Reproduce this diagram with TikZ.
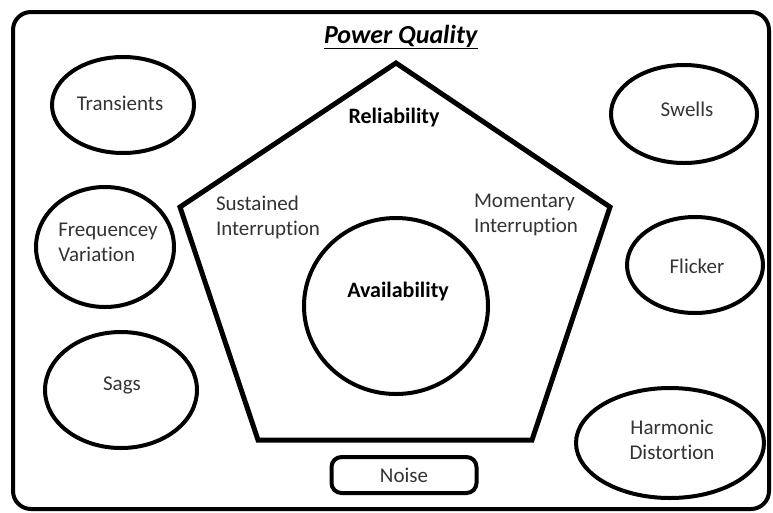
\documentclass[tikz,border=0pt]{standalone}
\usepackage{fontspec}
\setmainfont{Carlito}[Ligatures=NoCommon]
\begin{document}
\begin{tikzpicture}[x=1pt, y=-1pt, line width=4pt,
  txt/.style={text=black!80, font=\fontsize{21}{25}\selectfont, align=left, inner sep=0pt}]
  \useasboundingbox (0,0) rectangle (773,512);
  \draw[rounded corners=18pt] (13,12) rectangle (769,509);
  % \draw (396,250) circle [radius=120pt];
  \draw[line width=5pt, line join=miter] (396,63) -- (610,207) -- (532,440) -- (258,440) -- (180,207) -- cycle;
  \draw (396,306) circle [x radius=92pt, y radius=88pt];
  \draw (123,105) circle [x radius=71pt, y radius=48pt];
  \draw (105,247) circle [x radius=69pt, y radius=60pt];
  \draw (121,390) circle [x radius=76pt, y radius=58pt];
  \draw (684,114) circle [x radius=73pt, y radius=49pt];
  \draw (695,265) circle [x radius=68pt, y radius=48pt];
  \draw (670,443) circle [x radius=94pt, y radius=55pt];
  \path (401,37) node[txt, text=black, font=\fontsize{26}{30}\selectfont] (title) {\underline{\textbf{\textit{Power Quality}}}};
  \path (394,118) node[txt, text=black, font=\fontsize{22}{25}\selectfont\bfseries] (rel) {Reliability};
  \path (398,292) node[txt, text=black, font=\fontsize{22}{25}\selectfont\bfseries] (avail) {Availability};
  \path (268,217) node[txt] (sust) {Sustained\\Interruption};
  \path (526,215) node[txt] (mom) {Momentary\\Interruption};
  \path (120,103) node[txt] (trans) {Transients};
  \path (108,242) node[txt] (freq) {Frequencey\\Variation};
  \path (122,385) node[txt] (sags) {Sags};
  \path (687,109) node[txt] (swells) {Swells};
  \path (697,266) node[txt] (flicker) {Flicker};
  \path (672,440) node[txt, align=center] (harm) {Harmonic\\Distortion};
  \path (404,475) node[txt, draw, rounded corners=10pt, minimum width=145pt, minimum height=36pt] (noise) {Noise};
\end{tikzpicture}
\end{document}
